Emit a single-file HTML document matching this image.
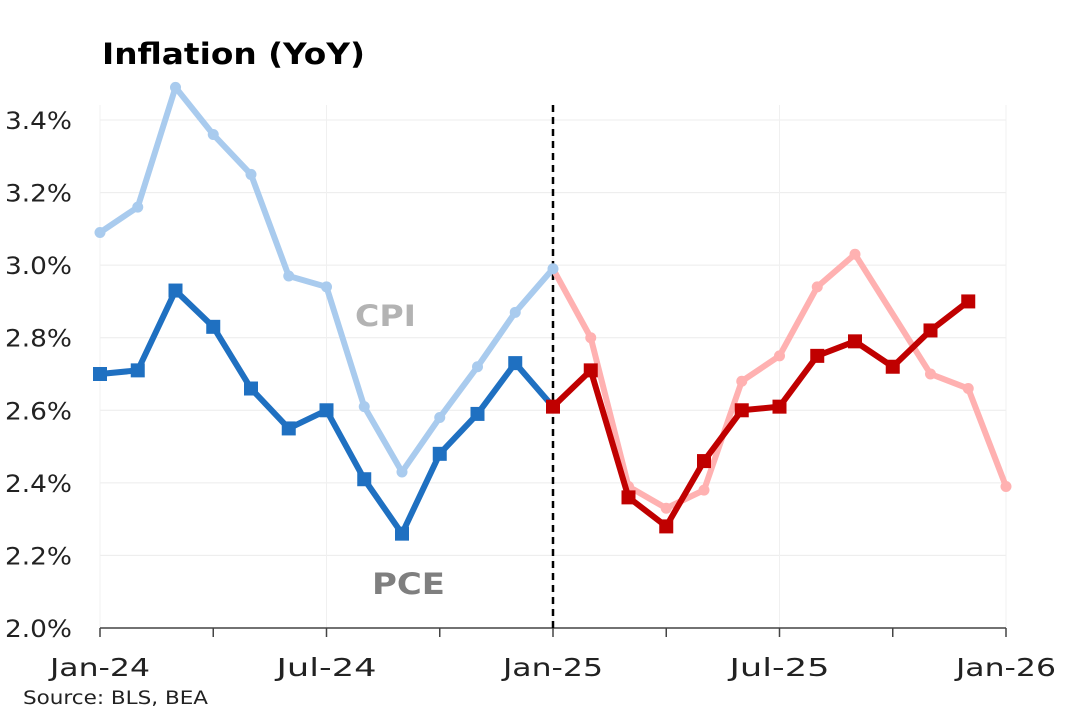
<!DOCTYPE html>
<html><head><meta charset="utf-8"><style>
body{margin:0;background:#fff;}
svg{display:block;font-family:"DejaVu Sans","Liberation Sans",sans-serif;}
</style></head><body>
<svg id="chart" width="1071" height="713" viewBox="0 0 1071 713">
<text x="102" y="64" font-size="29" font-weight="bold" fill="#000" textLength="263" lengthAdjust="spacingAndGlyphs">Inflation (YoY)</text>
<g id="grid"></g>
<g id="axes"></g>
<g id="series"></g>
<text x="355" y="326" font-size="29" font-weight="bold" fill="#b3b3b3" textLength="61" lengthAdjust="spacingAndGlyphs">CPI</text>
<text x="372" y="594" font-size="29" font-weight="bold" fill="#7f7f7f" textLength="73" lengthAdjust="spacingAndGlyphs">PCE</text>
<text x="23" y="704" font-size="19" fill="#222" textLength="185" lengthAdjust="spacingAndGlyphs">Source: BLS, BEA</text>
</svg>
<script>
const months = ["Jan-24","Feb-24","Mar-24","Apr-24","May-24","Jun-24","Jul-24","Aug-24","Sep-24","Oct-24","Nov-24","Dec-24","Jan-25","Feb-25","Mar-25","Apr-25","May-25","Jun-25","Jul-25","Aug-25","Sep-25","Oct-25","Nov-25","Dec-25","Jan-26"];
const cpi = [3.09,3.16,3.49,3.36,3.25,2.97,2.94,2.61,2.43,2.58,2.72,2.87,2.99,2.80,2.39,2.33,2.38,2.68,2.75,2.94,3.03,null,2.70,2.66,2.39];
const pce = [2.70,2.71,2.93,2.83,2.66,2.55,2.60,2.41,2.26,2.48,2.59,2.73,2.61,2.71,2.36,2.28,2.46,2.60,2.61,2.75,2.79,2.72,2.82,2.90];
const yTicks = [2.0,2.2,2.4,2.6,2.8,3.0,3.2,3.4];
const xLabels = ["Jan-24","Jul-24","Jan-25","Jul-25","Jan-26"];
const splitIndex = 12;

const NS="http://www.w3.org/2000/svg";
const X0=100,X1=1006,Y0=628,Ymin=2.0,Ymax=3.4,Ytop=120;
const x=i=>X0+(X1-X0)*i/(months.length-1);
const y=v=>Y0-(v-Ymin)/(Ymax-Ymin)*(Y0-Ytop);
function mk(tag,attrs,parent){const e=document.createElementNS(NS,tag);for(const k in attrs)e.setAttribute(k,attrs[k]);parent.appendChild(e);return e;}
const grid=document.getElementById('grid'),axes=document.getElementById('axes'),series=document.getElementById('series');

yTicks.forEach(v=>{
  if(v>Ymin){const l=mk('line',{x1:X0,x2:X1,y1:y(v),y2:y(v),stroke:'#ececec','stroke-width':1},grid);
  }
  const t=mk('text',{x:72,y:y(v)+9,'text-anchor':'end','font-size':24,fill:'#222',textLength:67,lengthAdjust:'spacingAndGlyphs'},axes);
  
  t.textContent=v.toFixed(1)+'%';
});
xLabels.forEach(lbl=>{
  const i=months.indexOf(lbl);
  const g=mk('line',{x1:x(i),x2:x(i),y1:Ytop-15,y2:Y0,stroke:'#f0f0f0','stroke-width':1},grid);
  
  const t=mk('text',{x:x(i),y:676,'text-anchor':'middle','font-size':25,fill:'#222',textLength:100,lengthAdjust:'spacingAndGlyphs'},axes);
  
  t.textContent=lbl;
});
for(let i=0;i<months.length;i+=3){
  const t=mk('line',{x1:x(i),x2:x(i),y1:Y0,y2:Y0+9,stroke:'#444','stroke-width':1.5},axes);
  
}
const ax=mk('line',{x1:X0,x2:X1,y1:Y0,y2:Y0,stroke:'#444','stroke-width':1.5},axes);

const dl=mk('line',{x1:x(splitIndex),x2:x(splitIndex),y1:105,y2:Y0,stroke:'#000','stroke-width':2.5,'stroke-dasharray':'7,5'},series);


function drawLine(vals,from,to,color,name){
  const pts=[];for(let i=from;i<=to&&i<vals.length;i++){if(vals[i]!=null)pts.push(x(i)+','+y(vals[i]));}
  const p=mk('polyline',{points:pts.join(' '),fill:'none',stroke:color,'stroke-width':6,'stroke-linejoin':'round'},series);
  
}
function drawMarkers(vals,from,to,color,shape,name){
  for(let i=from;i<=to&&i<vals.length;i++){
    if(vals[i]==null)continue;let m;
    if(shape==='circle')m=mk('circle',{cx:x(i),cy:y(vals[i]),r:5.5,fill:color},series);
    else m=mk('rect',{x:x(i)-7,y:y(vals[i])-7,width:14,height:14,fill:color},series);
    
  }
}
drawLine(cpi,0,splitIndex,'#a9cbee','cpi-line-2024');
drawLine(cpi,splitIndex,cpi.length-1,'#ffb1b1','cpi-line-2025');
drawMarkers(cpi,0,splitIndex,'#a9cbee','circle','cpi-point-2024');
drawMarkers(cpi,splitIndex+1,cpi.length-1,'#ffb1b1','circle','cpi-point-2025');
drawLine(pce,0,splitIndex,'#1f70c1','pce-line-2024');
drawLine(pce,splitIndex,pce.length-1,'#c00000','pce-line-2025');
drawMarkers(pce,0,splitIndex-1,'#1f70c1','square','pce-point-2024');
drawMarkers(pce,splitIndex,pce.length-1,'#c00000','square','pce-point-2025');
</script>
</body></html>
